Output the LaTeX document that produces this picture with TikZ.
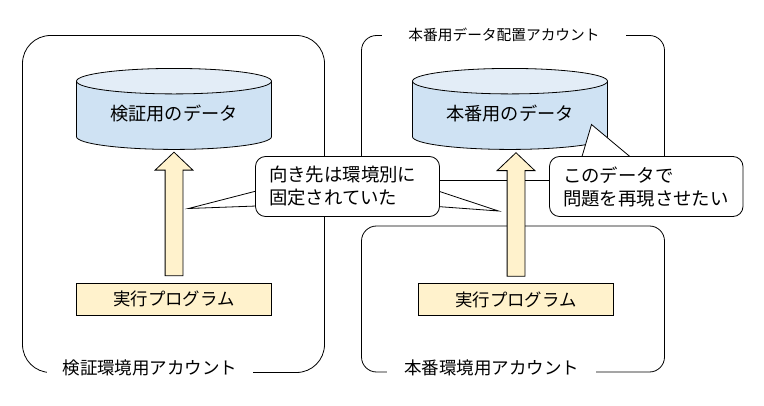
\documentclass[tikz,border=0pt]{standalone}
\usepackage{fontspec}
\setmainfont{Noto Sans CJK JP}
\usetikzlibrary{shapes.geometric,shapes.arrows,calc}
\begin{document}
\begin{tikzpicture}[x=1pt,y=-1pt]
    \tikzset{
        account/.style={draw,line width=0.8pt,inner sep=0pt,minimum width=302pt},
        acclabel/.style={fill=white,inner sep=0pt,minimum height=24pt,font=\fontsize{17.5}{20}\selectfont},
        datastore/.style={cylinder,shape border rotate=90,draw,line width=0.8pt,aspect=0.2,inner sep=0pt,
            minimum width=195pt,minimum height=81pt,text height=16pt,text depth=6pt,cylinder uses custom fill,
            cylinder body fill=dbblue,cylinder end fill=dbtop,font=\fontsize{18.2}{20}\selectfont},
        program/.style={draw,line width=0.8pt,fill=progyellow,inner sep=0pt,minimum width=195pt,
            minimum height=32pt,font=\fontsize{17.4}{20}\selectfont},
        bigarrow/.style={single arrow,draw,line width=0.8pt,fill=progyellow,inner xsep=0pt,inner ysep=8.5pt,rotate=90,
            minimum height=123.5pt,single arrow head extend=10pt,
            single arrow tip angle=93,anchor=tail},
        bubble/.style={draw,line width=0.8pt,fill=white,rounded corners=10pt,inner xsep=13.5pt,inner ysep=0pt,
            minimum height=60pt,align=left,font=\fontsize{18.4}{23}\selectfont},
        pointer/.style={draw,line width=0.8pt,fill=white}
    }
    \definecolor{dbblue}{HTML}{CFE2F3}
    \definecolor{dbtop}{HTML}{E3EDF7}
    \definecolor{progyellow}{HTML}{FFF2CC}
    \useasboundingbox (0,0) rectangle (764,406);

    % accounts
    \node[account,rounded corners=28pt,minimum height=337pt] (verify) at (173.5,204) {};
    \node[account,rounded corners=15pt,minimum height=145pt,minimum width=303pt] (dataacc) at (513,108) {};
    \node[account,rounded corners=15pt,minimum height=146pt,minimum width=303pt] (prod) at (513,299) {};
    \node[acclabel,minimum width=206pt] (verifylabel) at (150,368) {検証環境用アカウント};
    \node[acclabel,minimum width=209pt] (prodlabel) at (491.5,368) {本番環境用アカウント};
    \node[acclabel,minimum width=244pt,font=\fontsize{14.7}{18}\selectfont] (datalabel) at (504,35) {本番用データ配置アカウント};

    % data and programs
    \node[datastore] (verifydb) at (174,115.5) {検証用のデータ};
    \node[datastore] (proddb) at (510,115.5) {本番用のデータ};
    \node[program] (verifyprog) at (174,299) {実行プログラム};
    \node[program] (prodprog) at (516,299.5) {実行プログラム};
    \node[bigarrow] (verifyarrow) at ($(verifyprog.north)+(0,-6.5)$) {};
    \node[bigarrow] (prodarrow) at ($(prodprog.north)+(0,-6.5)$) {};

    % speech bubbles
    \coordinate (tipA) at (188.5,208.5);
    \coordinate (tipB) at (498.5,211);
    \coordinate (tipC) at (591.5,124.5);
    \draw[pointer] (270,187.5) -- (tipA) -- (270,205.5) -- cycle;
    \draw[pointer] (425,186.7) -- (tipB) -- (425,205.6) -- cycle;
    \draw[pointer] (578,170) -- (tipC) -- (646,170) -- cycle;
    \node[bubble,text width=157pt] (fixed) at (347.5,186.5) {向き先は環境別に\\固定されていた};
    \node[bubble,text width=166.5pt] (reproduce) at (646.25,186.5) {このデータで\\問題を再現させたい};
\end{tikzpicture}
\end{document}
